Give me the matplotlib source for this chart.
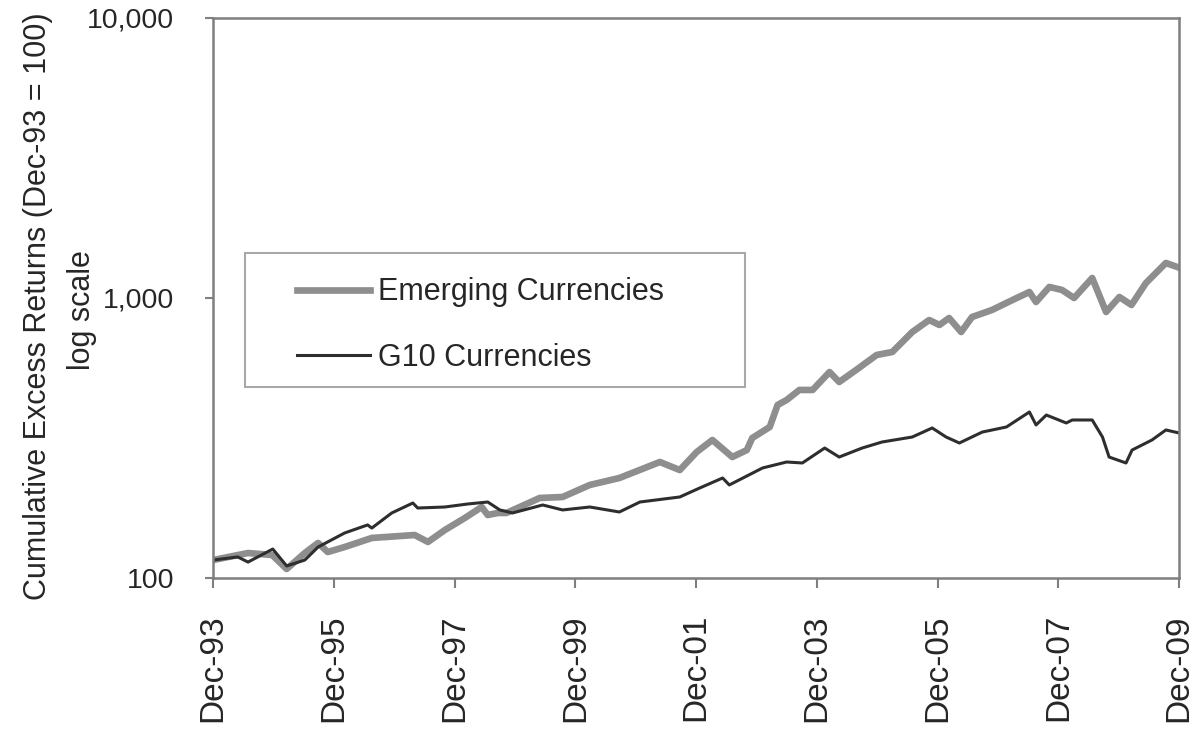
import matplotlib.pyplot as plt
from matplotlib.patches import Rectangle
from matplotlib.ticker import FixedLocator, FuncFormatter

# decimal years and index values (log scale, Dec-93 = 100)
emerging_years = [1993.92, 1994.50, 1994.90, 1995.14, 1995.44, 1995.66, 1995.82, 1996.10,
                  1996.55, 1997.26, 1997.48, 1997.76, 1998.09, 1998.37, 1998.47, 1998.64,
                  1998.78, 1999.33, 1999.71, 2000.16, 2000.65, 2001.32, 2001.65, 2001.93,
                  2002.19, 2002.52, 2002.76, 2002.85, 2003.14, 2003.27, 2003.42, 2003.63,
                  2003.85, 2004.13, 2004.29, 2004.57, 2004.91, 2005.17, 2005.50, 2005.78,
                  2005.95, 2006.11, 2006.31, 2006.49, 2006.82, 2007.16, 2007.44, 2007.55,
                  2007.77, 2007.98, 2008.18, 2008.48, 2008.71, 2008.93, 2009.13, 2009.37,
                  2009.70, 2009.89]
emerging_vals = [115.9, 122.8, 120.8, 107.7, 122.8, 133.4, 123.8, 129.0,
                 139.0, 142.4, 134.5, 148.4, 163.8, 179.3, 167.9, 170.7,
                 170.7, 193.1, 194.7, 214.9, 227.6, 259.6, 243.0, 281.8,
                 311.1, 270.4, 286.4, 316.2, 346.2, 414.9, 432.3, 469.4,
                 469.4, 544.0, 501.2, 553.2, 625.8, 641.5, 756.0, 834.4,
                 801.0, 848.3, 756.0, 855.3, 906.1, 983.6, 1050.6, 967.6,
                 1094.9, 1068.2, 1000.0, 1178.8, 891.3, 1008.3, 944.1, 1131.3,
                 1333.5, 1290.0]

g10_years = [1993.92, 1994.33, 1994.50, 1994.91, 1995.14, 1995.44, 1995.66, 1996.10,
             1996.48, 1996.55, 1996.88, 1997.23, 1997.31, 1997.76, 1998.14, 1998.47,
             1998.67, 1998.88, 1999.38, 1999.71, 2000.16, 2000.65, 2000.99, 2001.65,
             2001.98, 2002.36, 2002.47, 2003.02, 2003.42, 2003.68, 2004.05, 2004.29,
             2004.67, 2005.00, 2005.50, 2005.83, 2006.06, 2006.28, 2006.66, 2007.06,
             2007.44, 2007.55, 2007.72, 2008.05, 2008.15, 2008.48, 2008.65, 2008.76,
             2009.04, 2009.14, 2009.47, 2009.70, 2009.92]
g10_vals = [115.9, 118.9, 114.0, 126.9, 110.4, 115.9, 129.0, 144.8,
            154.7, 150.8, 170.7, 185.3, 177.8, 179.3, 183.8, 186.8,
            175.0, 170.7, 182.3, 175.0, 179.3, 172.1, 186.8, 194.7,
            209.6, 227.6, 214.9, 247.1, 259.6, 257.5, 291.2, 270.4,
            291.2, 306.0, 318.8, 343.4, 318.8, 303.5, 332.1, 346.2,
            391.6, 352.0, 382.0, 357.8, 366.7, 366.7, 318.8, 270.4,
            257.5, 286.4, 311.1, 337.8, 329.5]

tick_years = [1993.92, 1995.92, 1997.92, 1999.92, 2001.92, 2003.92, 2005.92, 2007.92, 2009.92]
tick_labels = ['Dec-93', 'Dec-95', 'Dec-97', 'Dec-99', 'Dec-01',
               'Dec-03', 'Dec-05', 'Dec-07', 'Dec-09']
y_ticks = [100, 1000, 10000]

plt.rcParams['font.family'] = ['Liberation Sans', 'DejaVu Sans']
txt = '#262626'
axcol = '#7f7f7f'

fig = plt.figure(figsize=(12.02, 7.31), dpi=100)
ax = fig.add_axes([0.1772, 0.2093, 0.8038, 0.7661])

ax.plot(emerging_years, emerging_vals, color='#8e8e8e', lw=4.8,
        solid_joinstyle='round', label='Emerging Currencies')
ax.plot(g10_years, g10_vals, color='#2e2e2e', lw=2.2,
        solid_joinstyle='round', label='G10 Currencies')

ax.set_yscale('log')
ax.set_ylim(100, 10000)
ax.set_xlim(tick_years[0], tick_years[-1])
ax.yaxis.set_major_locator(FixedLocator(y_ticks))
ax.yaxis.set_minor_locator(FixedLocator([]))
ax.yaxis.set_major_formatter(FuncFormatter(lambda v, p: f'{v:,.0f}'))
ax.set_xticks(tick_years)
ax.set_xticklabels(tick_labels, rotation=90)

for s in ax.spines.values():
    s.set_color(axcol)
    s.set_linewidth(1.8)
ax.tick_params(axis='x', direction='out', length=7, width=1.5, color=axcol,
               labelsize=24, labelcolor=txt, pad=19)
ax.tick_params(axis='y', direction='out', length=6, width=1.5, color=axcol,
               labelsize=20.5, labelcolor=txt, pad=22)

# two-line axis title: main line as ylabel, second line on its own
ax.set_ylabel('Cumulative Excess Returns (Dec-93 = 100)', fontsize=22, color=txt)
ax.yaxis.set_label_coords(-0.166, 0.486)
ax.text(-0.1356, 0.479, 'log scale', transform=ax.transAxes, rotation=90,
        ha='center', va='center', fontsize=22, color=txt)

# legend box
ax.add_patch(Rectangle((0.0331, 0.341), 0.5176, 0.239, transform=ax.transAxes,
                       fill=False, edgecolor='#a8a8a8', lw=1.5, zorder=4))
ax.legend(loc='upper left', bbox_to_anchor=(0.087, 0.537), frameon=False,
          fontsize=22, handlelength=2.4, handletextpad=0.25, labelspacing=1.16,
          borderpad=0, borderaxespad=0, labelcolor=txt)

plt.savefig('out.png', dpi=100, facecolor='white')
plt.close()
